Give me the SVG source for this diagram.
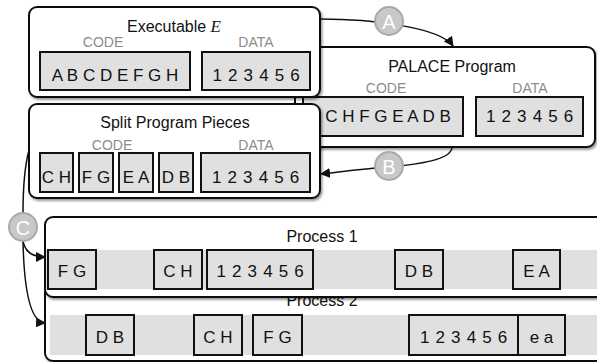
<svg xmlns="http://www.w3.org/2000/svg" width="597" height="362" viewBox="0 0 597 362">
  <defs>
    <filter id="shadow" x="-5%" y="-10%" width="115%" height="130%">
      <feDropShadow dx="1.5" dy="2" stdDeviation="1.3" flood-color="#000" flood-opacity="0.4"/>
    </filter>
    <marker id="arrow" viewBox="0 0 10 10" refX="9" refY="5" markerWidth="10" markerHeight="10" markerUnits="userSpaceOnUse" orient="auto">
      <path d="M0,0 L10,5 L0,10 Z" fill="#111"/>
    </marker>
    <style>
      .frame { fill: #fff; stroke: #111; stroke-width: 2; filter: url(#shadow); }
      .cell { fill: #e0e0e0; stroke: #111; stroke-width: 2; }
      .band { fill: #e0e0e0; }
      .title { font-family: "Liberation Sans", Arial, sans-serif; font-size: 16px; fill: #111; text-anchor: middle; }
      .math { font-family: "Liberation Serif", "Times New Roman", serif; font-style: italic; font-size: 17px; }
      .sect { font-family: "Liberation Sans", Arial, sans-serif; font-size: 14px; fill: #8c8c8c; text-anchor: middle; }
      .lbl { font-family: "Liberation Sans", Arial, sans-serif; font-size: 17px; fill: #111; text-anchor: middle; }
      .num { letter-spacing: 0.7px; }
      .edge { fill: none; stroke: #111; stroke-width: 1.5; }
      .step circle { fill: #c8c8c8; stroke: #a9a9a9; stroke-width: 2; }
      .step text { font-family: "Liberation Sans", Arial, sans-serif; font-size: 20px; fill: #fff; text-anchor: middle; }
    </style>
  </defs>

  <!-- Process 2 (drawn first, partly covered by Process 1) -->
  <g id="process2">
    <rect class="frame" x="45" y="285" width="570" height="76" rx="8"/>
    <text class="title" x="322" y="306">Process 2</text>
    <rect class="band" x="50" y="315" width="560" height="40"/>
    <rect class="cell" x="86" y="315" width="48" height="40"/>
    <text class="lbl" x="110" y="343">D B</text>
    <rect class="cell" x="194" y="315" width="48" height="40"/>
    <text class="lbl" x="218" y="343">C H</text>
    <rect class="cell" x="253" y="315" width="49" height="40"/>
    <text class="lbl" x="277.5" y="343">F G</text>
    <rect class="cell" x="409" y="315" width="109" height="40"/>
    <text class="lbl num" x="464" y="343">1 2 3 4 5 6</text>
    <rect class="cell" x="518" y="315" width="47" height="40"/>
    <text class="lbl" x="541.5" y="343">e a</text>
  </g>

  <!-- Process 1 -->
  <g id="process1">
    <rect class="frame" x="45" y="217" width="570" height="80" rx="8"/>
    <text class="title" x="322" y="242">Process 1</text>
    <rect class="band" x="46" y="250" width="560" height="39"/>
    <rect class="cell" x="48" y="250" width="48" height="39"/>
    <text class="lbl" x="72" y="277">F G</text>
    <rect class="cell" x="154" y="250" width="48" height="39"/>
    <text class="lbl" x="178" y="277">C H</text>
    <rect class="cell" x="207" y="250" width="106" height="39"/>
    <text class="lbl num" x="260.5" y="277">1 2 3 4 5 6</text>
    <rect class="cell" x="395" y="250" width="48" height="39"/>
    <text class="lbl" x="419" y="277">D B</text>
    <rect class="cell" x="513" y="250" width="47" height="39"/>
    <text class="lbl" x="536.5" y="277">E A</text>
  </g>

  <!-- PALACE program (behind the two left-hand frames) -->
  <g id="palace">
    <rect class="frame" x="295" y="47" width="300" height="100" rx="8"/>
    <text class="title" x="452" y="72">PALACE Program</text>
    <text class="sect" x="386" y="93">CODE</text>
    <text class="sect" x="530" y="93">DATA</text>
    <rect class="cell" x="303" y="97" width="160" height="39"/>
    <text class="lbl" x="388" y="122">C H F G E A D B</text>
    <rect class="cell" x="476" y="97" width="107" height="39"/>
    <text class="lbl num" x="530" y="122">1 2 3 4 5 6</text>
  </g>

  <!-- Original executable -->
  <g id="executable">
    <rect class="frame" x="29" y="7" width="291" height="90" rx="8"/>
    <text class="title" x="174" y="32">Executable <tspan class="math">E</tspan></text>
    <text class="sect" x="103" y="47">CODE</text>
    <text class="sect" x="256" y="47">DATA</text>
    <rect class="cell" x="40" y="52" width="150" height="38"/>
    <text class="lbl" x="115" y="81">A B C D E F G H</text>
    <rect class="cell" x="202" y="52" width="108" height="38"/>
    <text class="lbl num" x="256.5" y="81">1 2 3 4 5 6</text>
  </g>

  <!-- Split program pieces -->
  <g id="split">
    <rect class="frame" x="29" y="104" width="291" height="94" rx="8"/>
    <text class="title" x="175" y="128">Split Program Pieces</text>
    <text class="sect" x="112" y="150">CODE</text>
    <text class="sect" x="256" y="150">DATA</text>
    <rect class="cell" x="40" y="153" width="33" height="39"/>
    <text class="lbl" x="56.5" y="183">C H</text>
    <rect class="cell" x="79" y="153" width="34" height="39"/>
    <text class="lbl" x="96" y="183">F G</text>
    <rect class="cell" x="119" y="153" width="34" height="39"/>
    <text class="lbl" x="136" y="183">E A</text>
    <rect class="cell" x="159" y="153" width="34" height="39"/>
    <text class="lbl" x="176" y="183">D B</text>
    <rect class="cell" x="201" y="153" width="109" height="39"/>
    <text class="lbl num" x="256" y="183">1 2 3 4 5 6</text>
  </g>

  <!-- Connectors with their step badges -->
  <g id="connectors">
    <path class="edge" d="M320,19 C370,19 440,27 453,46" marker-end="url(#arrow)"/>
    <path class="edge" d="M452,148 C450,160 420,164 389,167 C360,169 340,172 321,174" marker-end="url(#arrow)"/>
    <path class="edge" d="M29,150 C25,165 23,185 23,213"/>
    <path class="edge" d="M23,241 C25,252 32,257 45,257" marker-end="url(#arrow)"/>
    <path class="edge" d="M23,241 C24,290 30,322 45,323" marker-end="url(#arrow)"/>
    <g class="step"><circle cx="389" cy="21" r="14"/><text x="389" y="28.5">A</text></g>
    <g class="step"><circle cx="389" cy="166" r="14"/><text x="389" y="173.5">B</text></g>
    <g class="step"><circle cx="23" cy="227" r="14"/><text x="23" y="234.5">C</text></g>
  </g>
</svg>
